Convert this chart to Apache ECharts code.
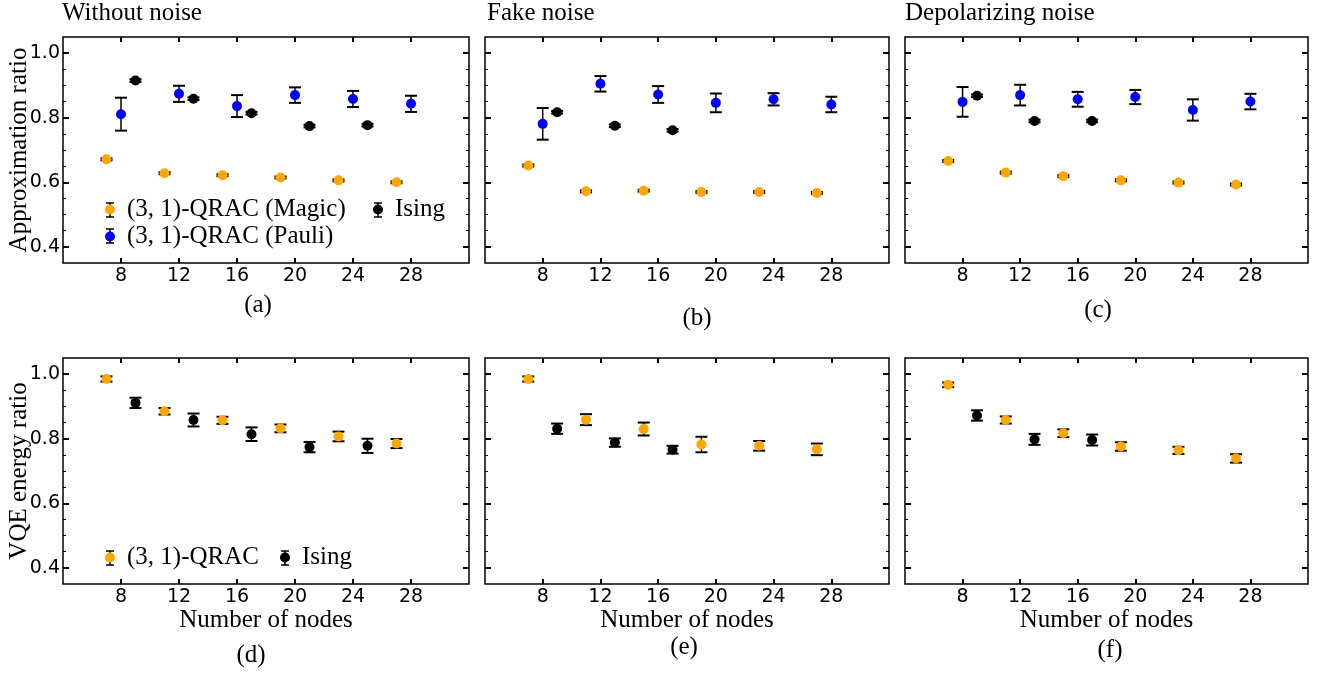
<!DOCTYPE html>
<html>
<head>
<meta charset="utf-8">
<script src="https://cdn.jsdelivr.net/npm/echarts@6/dist/echarts.min.js"></script>
<style>
  html, body { margin: 0; padding: 0; background: #fff; }
  #chart { width: 1323px; height: 673px; }
</style>
</head>
<body>
<div id="chart"></div>
<script>
// number of nodes
var magicX = [7, 11, 15, 19, 23, 27];
var pauliX = [8, 12, 16, 20, 24, 28];
var isingX = [9, 13, 17, 21, 25];
var isingShortX = [9, 13, 17];

// tick labels
var xTicks = [8, 12, 16, 20, 24, 28];
var yMajor = [0.4, 0.6, 0.8, 1.0];
var yMinor = [0.4, 0.45, 0.5, 0.55, 0.6, 0.65, 0.7, 0.75, 0.8, 0.85, 0.9, 0.95, 1.0];

// (a) without noise - approximation ratio
var aMagic = [0.671, 0.628, 0.622, 0.615, 0.606, 0.600];
var aMagicErr = [0.003, 0.003, 0.003, 0.003, 0.003, 0.003];
var aPauli = [0.811, 0.874, 0.836, 0.870, 0.858, 0.843];
var aPauliErr = [0.051, 0.025, 0.034, 0.024, 0.025, 0.025];
var aIsing = [0.915, 0.859, 0.814, 0.774, 0.777];
var aIsingErr = [0.004, 0.004, 0.004, 0.004, 0.004];
// (b) fake noise
var bMagic = [0.652, 0.572, 0.574, 0.570, 0.570, 0.567];
var bMagicErr = [0.003, 0.003, 0.003, 0.003, 0.003, 0.003];
var bPauli = [0.781, 0.905, 0.872, 0.846, 0.857, 0.841];
var bPauliErr = [0.049, 0.024, 0.026, 0.029, 0.019, 0.024];
var bIsing = [0.817, 0.775, 0.761];
var bIsingErr = [0.004, 0.004, 0.004];
// (c) depolarizing noise
var cMagic = [0.666, 0.630, 0.619, 0.606, 0.599, 0.593];
var cMagicErr = [0.003, 0.003, 0.003, 0.003, 0.003, 0.003];
var cPauli = [0.849, 0.870, 0.857, 0.864, 0.824, 0.850];
var cPauliErr = [0.046, 0.032, 0.023, 0.022, 0.033, 0.024];
var cIsing = [0.868, 0.790, 0.790];
var cIsingErr = [0.004, 0.004, 0.004];

// (d)-(f) VQE energy ratio
var dQrac = [0.985, 0.885, 0.857, 0.832, 0.807, 0.785];
var dQracErr = [0.008, 0.010, 0.011, 0.012, 0.015, 0.014];
var dIsing = [0.911, 0.858, 0.814, 0.774, 0.778];
var dIsingErr = [0.016, 0.020, 0.021, 0.016, 0.022];
var eQrac = [0.985, 0.859, 0.830, 0.782, 0.778, 0.767];
var eQracErr = [0.008, 0.017, 0.020, 0.024, 0.015, 0.018];
var eIsing = [0.831, 0.788, 0.766];
var eIsingErr = [0.016, 0.013, 0.012];
var fQrac = [0.967, 0.858, 0.817, 0.776, 0.764, 0.739];
var fQracErr = [0.007, 0.011, 0.012, 0.013, 0.011, 0.013];
var fIsing = [0.872, 0.798, 0.796];
var fIsingErr = [0.016, 0.017, 0.017];

var ORANGE = '#FFA500', BLUE = '#0000FF', BLACK = '#000000';
var MAGIC = '(3, 1)-QRAC (Magic)', PAULI = '(3, 1)-QRAC (Pauli)', QRAC = '(3, 1)-QRAC', ISING = 'Ising';
var SERIF = 'Liberation Serif', SANS = 'DejaVu Sans';

var chart = echarts.init(document.getElementById('chart'));

var gridBoxes = [
  [63, 37, 406], [485, 37, 404], [905, 37, 403],
  [63, 358, 406], [485, 358, 404], [905, 358, 403]
];

var grids = [], xAxes = [], yAxes = [], series = [];

gridBoxes.forEach(function (g, i) {
  grids.push({
    left: g[0], top: g[1], width: g[2], height: 226,
    show: true, borderColor: BLACK, borderWidth: 1.5, backgroundColor: 'transparent'
  });
  var bottomRow = i >= 3;
  ['bottom', 'top'].forEach(function (pos) {
    xAxes.push({
      type: 'value', gridIndex: i, position: pos, min: 4, max: 32,
      splitLine: { show: false },
      axisLine: { show: false },
      axisTick: { inside: true, length: 5, lineStyle: { color: BLACK, width: 2 }, customValues: xTicks },
      axisLabel: {
        show: pos === 'bottom', customValues: xTicks, margin: 4,
        color: BLACK, fontFamily: SANS, fontSize: 19
      },
      name: (pos === 'bottom' && bottomRow) ? 'Number of nodes' : '',
      nameLocation: 'middle', nameGap: 20,
      nameTextStyle: { color: BLACK, fontFamily: SERIF, fontSize: 25 }
    });
  });
  ['left', 'right'].forEach(function (pos) {
    // major ticks
    yAxes.push({
      type: 'value', gridIndex: i, position: pos, min: 0.35, max: 1.05,
      splitLine: { show: false },
      axisLine: { show: false },
      axisTick: { inside: true, length: 6, lineStyle: { color: BLACK, width: 2 }, customValues: yMajor },
      axisLabel: {
        show: pos === 'left' && (i === 0 || i === 3), customValues: yMajor, margin: 3,
        color: BLACK, fontFamily: SANS, fontSize: 19,
        formatter: function (v) { return v.toFixed(1); }
      },
      name: (pos === 'left' && i === 0) ? 'Approximation ratio' : (pos === 'left' && i === 3 ? 'VQE energy ratio' : ''),
      nameLocation: 'middle', nameGap: 31, nameMoveOverlap: false,
      nameTextStyle: { color: BLACK, fontFamily: SERIF, fontSize: 25 }
    });
    // minor ticks
    yAxes.push({
      type: 'value', gridIndex: i, position: pos, min: 0.35, max: 1.05,
      splitLine: { show: false },
      axisLine: { show: false },
      axisTick: { inside: true, length: 3, lineStyle: { color: BLACK, width: 1 }, customValues: yMinor },
      axisLabel: { show: false }
    });
  });
});

function errRender(params, api) {
  var x = api.value(0), y = api.value(1), e = api.value(2);
  var lo = api.coord([x, y - e]);
  var hi = api.coord([x, y + e]);
  var w = 6;
  var st = { stroke: BLACK, lineWidth: 1.5 };
  var cap = { stroke: BLACK, lineWidth: 2 };
  return {
    type: 'group',
    children: [
      { type: 'line', shape: { x1: lo[0], y1: lo[1], x2: hi[0], y2: hi[1] }, style: st },
      { type: 'line', shape: { x1: lo[0] - w, y1: lo[1], x2: lo[0] + w, y2: lo[1] }, style: cap },
      { type: 'line', shape: { x1: hi[0] - w, y1: hi[1], x2: hi[0] + w, y2: hi[1] }, style: cap }
    ]
  };
}

function addSet(panel, name, xs, ys, errs, color) {
  var rows = xs.map(function (x, k) { return [x, ys[k], errs[k]]; });
  series.push({
    type: 'custom', name: name, xAxisIndex: panel * 2, yAxisIndex: panel * 4,
    renderItem: errRender, data: rows, z: 2, silent: true,
    itemStyle: { color: color },
    encode: { x: 0, y: [1] }
  });
  series.push({
    type: 'scatter', name: name, xAxisIndex: panel * 2, yAxisIndex: panel * 4,
    data: rows, symbol: 'circle', symbolSize: 10, z: 3,
    itemStyle: { color: color, opacity: 1 },
    encode: { x: 0, y: 1 }
  });
}

addSet(0, MAGIC, magicX, aMagic, aMagicErr, ORANGE);
addSet(0, PAULI, pauliX, aPauli, aPauliErr, BLUE);
addSet(0, ISING, isingX, aIsing, aIsingErr, BLACK);
addSet(1, MAGIC, magicX, bMagic, bMagicErr, ORANGE);
addSet(1, PAULI, pauliX, bPauli, bPauliErr, BLUE);
addSet(1, ISING, isingShortX, bIsing, bIsingErr, BLACK);
addSet(2, MAGIC, magicX, cMagic, cMagicErr, ORANGE);
addSet(2, PAULI, pauliX, cPauli, cPauliErr, BLUE);
addSet(2, ISING, isingShortX, cIsing, cIsingErr, BLACK);
addSet(3, QRAC, magicX, dQrac, dQracErr, ORANGE);
addSet(3, ISING, isingX, dIsing, dIsingErr, BLACK);
addSet(4, QRAC, magicX, eQrac, eQracErr, ORANGE);
addSet(4, ISING, isingShortX, eIsing, eIsingErr, BLACK);
addSet(5, QRAC, magicX, fQrac, fQracErr, ORANGE);
addSet(5, ISING, isingShortX, fIsing, fIsingErr, BLACK);

function legendAt(left, top, names) {
  return {
    left: left, top: top, orient: 'vertical', padding: 0, itemGap: 2,
    icon: 'circle', itemWidth: 10, itemHeight: 10,
    selectedMode: false,
    textStyle: { color: BLACK, fontFamily: SERIF, fontSize: 25, padding: [0, 0, 0, 7] },
    data: names
  };
}

// small error-bar glyphs drawn behind the legend dots
function ibeam(cx, cy) {
  return {
    type: 'group', z: 1, children: [
      { type: 'line', shape: { x1: cx, y1: cy - 7, x2: cx, y2: cy + 7 }, style: { stroke: BLACK, lineWidth: 1.5 } },
      { type: 'line', shape: { x1: cx - 4, y1: cy - 7, x2: cx + 4, y2: cy - 7 }, style: { stroke: BLACK, lineWidth: 1.5 } },
      { type: 'line', shape: { x1: cx - 4, y1: cy + 7, x2: cx + 4, y2: cy + 7 }, style: { stroke: BLACK, lineWidth: 1.5 } }
    ]
  };
}
function label(text, x, y, align) {
  return {
    type: 'text', x: x, y: y, z: 5,
    style: { text: text, fill: BLACK, font: '25px "' + SERIF + '"', textAlign: align || 'center', textVerticalAlign: 'middle' }
  };
}

var option = {
  animation: false,
  backgroundColor: '#fff',
  grid: grids,
  xAxis: xAxes,
  yAxis: yAxes,
  legend: [
    legendAt(105, 197, [MAGIC, PAULI]),
    legendAt(373, 197, [ISING]),
    legendAt(105, 545, [QRAC]),
    legendAt(280, 545, [ISING])
  ],
  graphic: [
    ibeam(110, 210), ibeam(110, 236), ibeam(378, 210), ibeam(110, 558), ibeam(285, 558),
    label('Without noise', 62, 13, 'left'),
    label('Fake noise', 487, 13, 'left'),
    label('Depolarizing noise', 905, 13, 'left'),
    label('(a)', 258, 305), label('(b)', 697, 318), label('(c)', 1098, 310),
    label('(d)', 251, 655), label('(e)', 684, 647), label('(f)', 1110, 650)
  ],
  series: series
};

chart.setOption(option);
</script>
</body>
</html>
